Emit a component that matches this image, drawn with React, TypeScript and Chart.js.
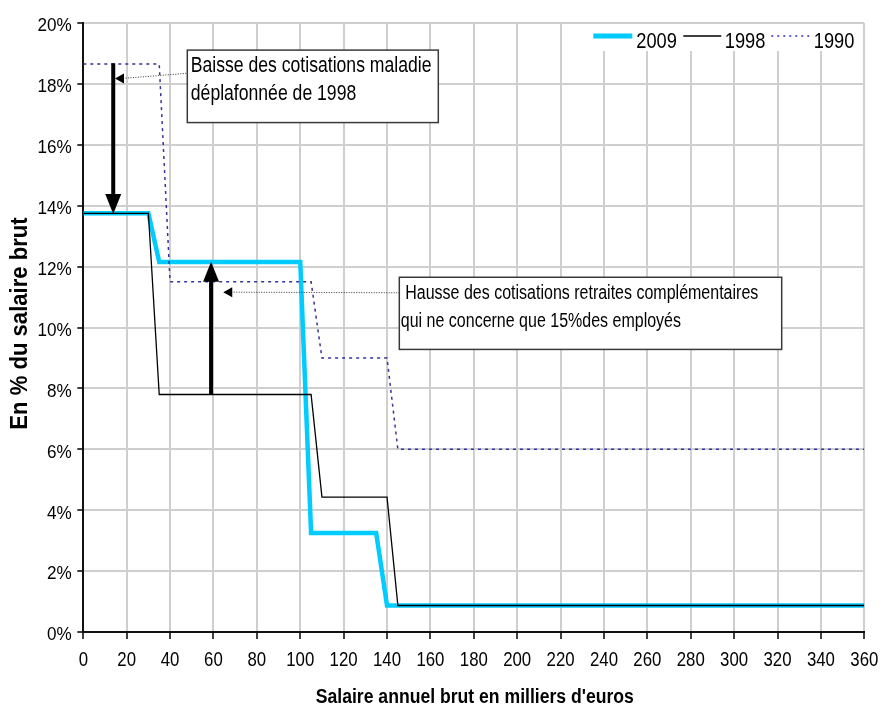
import React, { useEffect, useRef } from 'react';
import { Chart, registerables } from 'chart.js';

Chart.register(...registerables);

// ---- Data ----
const seriesLabels = ['2009', '1998', '1990'];
const salaries2009 = [0, 30, 35, 100, 105, 135, 140, 360];
const rates2009 = [13.75, 13.75, 12.15, 12.15, 3.25, 3.25, 0.87, 0.87];
const salaries1998 = [0, 30, 35, 105, 110, 140, 145, 360];
const rates1998 = [13.75, 13.75, 7.8, 7.8, 4.43, 4.43, 0.87, 0.87];
const salaries1990 = [0, 35, 40, 105, 110, 140, 145, 360];
const rates1990 = [18.65, 18.65, 11.5, 11.5, 9.0, 9.0, 6.0, 6.0];

const xTickValues = [0, 20, 40, 60, 80, 100, 120, 140, 160, 180, 200, 220, 240, 260, 280, 300, 320, 340, 360];
const yTickValues = [0, 2, 4, 6, 8, 10, 12, 14, 16, 18, 20];

const xAxisTitle = "Salaire annuel brut en milliers d'euros";
const yAxisTitle = 'En % du salaire brut';
const note1Lines = ['Baisse des cotisations maladie', 'déplafonnée de 1998'];
const note2Lines = [' Hausse des cotisations retraites complémentaires', 'qui ne concerne que 15%des employés'];

// arrows (data coordinates: salary, rate)
const arrowMaladie = { x: 13.8, from: 18.68, to: 13.73 };
const arrowRetraites = { x: 58.9, from: 7.8, to: 12.16 };

const FONT = "'Liberation Sans', Arial, sans-serif";
const CYAN = '#00ccff';
const NAVY = '#333399';

function toPoints(xs: number[], ys: number[]) {
  return xs.map((x, i) => ({ x, y: ys[i] }));
}

function drawText(
  ctx: CanvasRenderingContext2D,
  text: string,
  x: number,
  y: number,
  size: number,
  sx: number,
  align: CanvasTextAlign = 'left',
  bold = false,
  rotate = 0
) {
  ctx.save();
  ctx.translate(x, y);
  if (rotate) ctx.rotate(rotate);
  ctx.scale(sx, 1);
  ctx.font = `${bold ? 'bold ' : ''}${size}px ${FONT}`;
  ctx.textAlign = align;
  ctx.textBaseline = 'alphabetic';
  ctx.fillStyle = '#000';
  ctx.fillText(text, 0, 0);
  ctx.restore();
}

function drawBlockArrow(ctx: CanvasRenderingContext2D, x: number, y0: number, y1: number) {
  const headLen = 20;
  const headW = 16;
  const dir = Math.sign(y1 - y0);
  const yBase = y1 - dir * headLen;
  ctx.save();
  ctx.strokeStyle = '#000';
  ctx.lineWidth = 4;
  ctx.beginPath();
  ctx.moveTo(x, y0);
  ctx.lineTo(x, yBase + dir * 2);
  ctx.stroke();
  ctx.fillStyle = '#000';
  ctx.beginPath();
  ctx.moveTo(x, y1);
  ctx.lineTo(x - headW / 2, yBase);
  ctx.lineTo(x + headW / 2, yBase);
  ctx.closePath();
  ctx.fill();
  ctx.restore();
}

function drawLeader(ctx: CanvasRenderingContext2D, tx: number, ty: number, ex: number, ey: number) {
  ctx.save();
  ctx.strokeStyle = '#333';
  ctx.lineWidth = 1;
  ctx.setLineDash([1, 1.5]);
  ctx.beginPath();
  ctx.moveTo(tx + 8, ty);
  ctx.lineTo(ex, ey);
  ctx.stroke();
  ctx.setLineDash([]);
  ctx.fillStyle = '#000';
  ctx.beginPath();
  ctx.moveTo(tx, ty);
  ctx.lineTo(tx + 9, ty - 5);
  ctx.lineTo(tx + 9, ty + 5);
  ctx.closePath();
  ctx.fill();
  ctx.restore();
}

function drawBox(ctx: CanvasRenderingContext2D, x1: number, y1: number, x2: number, y2: number) {
  ctx.save();
  ctx.fillStyle = '#fff';
  ctx.fillRect(x1, y1, x2 - x1, y2 - y1);
  ctx.strokeStyle = '#3a3a3a';
  ctx.lineWidth = 1.5;
  ctx.strokeRect(x1, y1, x2 - x1, y2 - y1);
  ctx.restore();
}

const overlayPlugin = {
  id: 'overlay',
  afterDraw(chart: any) {
    const ctx: CanvasRenderingContext2D = chart.ctx;
    const xs = chart.scales.x;
    const ys = chart.scales.y;
    const area = chart.chartArea;
    const X = (v: number) => xs.getPixelForValue(v);
    const Y = (v: number) => ys.getPixelForValue(v);

    // tick labels
    xs.ticks.forEach((t: any) => {
      drawText(ctx, String(t.value), X(t.value), area.bottom + 33.5, 21, 0.8, 'center');
    });
    ys.ticks.forEach((t: any) => {
      drawText(ctx, `${t.value}%`, area.left - 11.5, Y(t.value) + 8.3, 19, 0.9, 'right');
    });

    // axis titles
    drawText(ctx, xAxisTitle, (area.left + area.right) / 2 + 1, 703, 20, 0.88, 'center', true);
    drawText(ctx, yAxisTitle, 26.5, (area.top + area.bottom) / 2 - 4, 24, 0.92, 'center', true, -Math.PI / 2);

    // legend
    const lgTop = area.top + 1;
    const lgLeft = area.right - 301;
    ctx.save();
    ctx.fillStyle = '#fff';
    ctx.fillRect(lgLeft, lgTop, 299.5, 27);
    const ly = area.top + 13;
    ctx.lineCap = 'butt';
    ctx.strokeStyle = CYAN;
    ctx.lineWidth = 5;
    ctx.beginPath();
    ctx.moveTo(lgLeft + 30, ly);
    ctx.lineTo(lgLeft + 69, ly);
    ctx.stroke();
    ctx.strokeStyle = '#000';
    ctx.lineWidth = 1.3;
    ctx.beginPath();
    ctx.moveTo(lgLeft + 120, ly);
    ctx.lineTo(lgLeft + 158, ly);
    ctx.stroke();
    ctx.strokeStyle = NAVY;
    ctx.lineWidth = 1.5;
    ctx.setLineDash([2, 4]);
    ctx.beginPath();
    ctx.moveTo(lgLeft + 208, ly);
    ctx.lineTo(lgLeft + 247, ly);
    ctx.stroke();
    ctx.restore();
    drawText(ctx, seriesLabels[0], lgLeft + 73, area.top + 24.5, 22, 0.83, 'left');
    drawText(ctx, seriesLabels[1], lgLeft + 161.5, area.top + 24.5, 22, 0.83, 'left');
    drawText(ctx, seriesLabels[2], lgLeft + 250.5, area.top + 24.5, 22, 0.83, 'left');

    // arrows
    drawBlockArrow(ctx, X(arrowMaladie.x), Y(arrowMaladie.from), Y(arrowMaladie.to));
    drawBlockArrow(ctx, X(arrowRetraites.x), Y(arrowRetraites.from), Y(arrowRetraites.to));

    // callout 1
    const b1 = { x1: X(47.94), y1: Y(19.11), x2: X(163.64), y2: Y(16.73) };
    drawLeader(ctx, X(14.6), Y(18.18), b1.x1, Y(18.35));
    drawBox(ctx, b1.x1, b1.y1, b1.x2, b1.y2);
    drawText(ctx, note1Lines[0], b1.x1 + 3.5, b1.y1 + 22.3, 22, 0.8, 'left');
    drawText(ctx, note1Lines[1], b1.x1 + 3.5, b1.y1 + 50, 22, 0.8, 'left');

    // callout 2
    const b2 = { x1: X(145.66), y1: Y(11.65), x2: X(321.93), y2: Y(9.28) };
    drawLeader(ctx, X(64.5), Y(11.16), b2.x1, Y(11.14));
    drawBox(ctx, b2.x1, b2.y1, b2.x2, b2.y2);
    drawText(ctx, note2Lines[0], b2.x1 + 1.5, b2.y1 + 22, 20, 0.8, 'left');
    drawText(ctx, note2Lines[1], b2.x1 + 1.5, b2.y1 + 49.4, 20, 0.8, 'left');
  },
};

export default function App() {
  const canvasRef = useRef<HTMLCanvasElement | null>(null);

  useEffect(() => {
    const canvas = canvasRef.current;
    if (!canvas) return;
    const chart = new Chart(canvas, {
      type: 'line',
      data: {
        datasets: [
          {
            label: seriesLabels[0],
            data: toPoints(salaries2009, rates2009),
            borderColor: CYAN,
            backgroundColor: CYAN,
            borderWidth: 4.5,
            pointRadius: 0,
            tension: 0,
            order: 2,
          },
          {
            label: seriesLabels[1],
            data: toPoints(salaries1998, rates1998),
            borderColor: '#000',
            backgroundColor: '#000',
            borderWidth: 1.3,
            pointRadius: 0,
            tension: 0,
            order: 0,
          },
          {
            label: seriesLabels[2],
            data: toPoints(salaries1990, rates1990),
            borderColor: NAVY,
            backgroundColor: NAVY,
            borderWidth: 1.5,
            borderDash: [3, 4],
            pointRadius: 0,
            tension: 0,
            order: 1,
          },
        ],
      },
      options: {
        animation: false,
        responsive: false,
        devicePixelRatio: 1,
        layout: { padding: { top: 23, right: 20.7, left: 0, bottom: 0 } },
        plugins: {
          legend: { display: false },
          tooltip: { enabled: false },
        },
        scales: {
          x: {
            type: 'linear',
            min: 0,
            max: 360,
            afterBuildTicks: (s: any) => {
              s.ticks = xTickValues.map((v) => ({ value: v }));
            },
            afterFit: (s: any) => {
              s.height = 76;
            },
            ticks: { display: false },
            grid: { color: '#cfcfcf', lineWidth: 2, tickColor: '#000', tickWidth: 1.5, tickLength: 7, drawTicks: true },
            border: { display: true, color: '#111', width: 2 },
          },
          y: {
            type: 'linear',
            min: 0,
            max: 20,
            afterBuildTicks: (s: any) => {
              s.ticks = yTickValues.map((v) => ({ value: v }));
            },
            afterFit: (s: any) => {
              s.width = 83.3;
            },
            ticks: { display: false },
            grid: { color: '#cfcfcf', lineWidth: 2, tickColor: '#000', tickWidth: 1.5, tickLength: 6, drawTicks: true },
            border: { display: true, color: '#111', width: 2 },
          },
        },
      } as any,
      plugins: [overlayPlugin],
    });
    return () => chart.destroy();
  }, []);

  return (
    <div style={{ position: 'fixed', left: 0, top: 0, width: 885, height: 708, background: '#fff' }}>
      <canvas ref={canvasRef} width={885} height={708} style={{ display: 'block' }} />
    </div>
  );
}
